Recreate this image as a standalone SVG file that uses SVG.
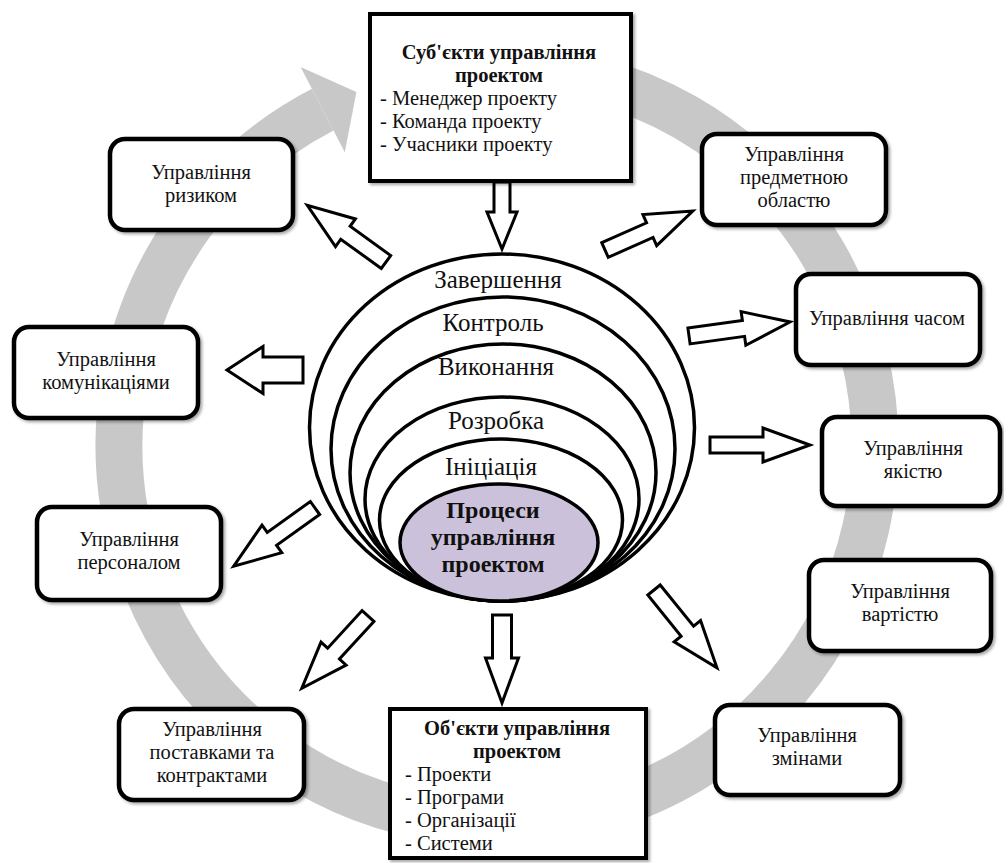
<svg xmlns="http://www.w3.org/2000/svg" width="1004" height="863" viewBox="0 0 1004 863">
<defs>
<style>
.t{font-family:"Liberation Serif","Times New Roman",serif;font-size:20.5px;fill:#111;text-anchor:middle}
.tl{font-family:"Liberation Serif","Times New Roman",serif;font-size:20.5px;fill:#111}
.b{font-weight:bold}
.e{font-family:"Liberation Serif","Times New Roman",serif;font-size:25px;fill:#111;text-anchor:middle}
.eb{font-family:"Liberation Serif","Times New Roman",serif;font-size:24px;font-weight:bold;fill:#111;text-anchor:middle}
.box{fill:#fff;stroke:#000;stroke-width:4.5;filter:url(#sh)}
.sq{fill:#fff;stroke:#000;stroke-width:4;filter:url(#sh)}
.ring{fill:#fff;stroke:#000;stroke-width:3.5}
.arr{fill:#fff;stroke:#000;stroke-width:3;stroke-linejoin:miter}
</style>
<filter id="sh" x="-10%" y="-10%" width="125%" height="125%">
<feDropShadow dx="2" dy="2" stdDeviation="1.5" flood-color="#000" flood-opacity="0.35"/>
</filter>
</defs>
<rect width="1004" height="863" fill="#fff"/>
<g id="connectors">
<path d="M418.4,75.3 A378,378 0 1 1 322.7,109.6" fill="none" stroke="#c8c8c8" stroke-width="47"/>
<polygon points="356.4,92.1 300.6,67 344.8,152.2" fill="#c8c8c8"/>
<path class="arr" transform="translate(502,182) rotate(90)" d="M0,-8 H30 V-15 L67,0 L30,15 V8 H0 Z"/>
<path class="arr" transform="translate(386,262) rotate(215.8)" d="M0,-8 H50 V-17 L97,0 L50,17 V8 H0 Z"/>
<path class="arr" transform="translate(605,250) rotate(-23.9)" d="M0,-8 H49 V-17 L96,0 L49,17 V8 H0 Z"/>
<path class="arr" transform="translate(689,336) rotate(-7.9)" d="M0,-8 H55 V-17 L102,0 L55,17 V8 H0 Z"/>
<path class="arr" transform="translate(710,445)" d="M0,-8 H53 V-17 L100,0 L53,17 V8 H0 Z"/>
<path class="arr" transform="translate(654,590) rotate(51)" d="M0,-8 H53 V-17 L100,0 L53,17 V8 H0 Z"/>
<path class="arr" transform="translate(502,615) rotate(90)" d="M0,-9.5 H43 V-16.5 L88,0 L43,16.5 V9.5 H0 Z"/>
<path class="arr" transform="translate(368,616) rotate(132.5)" d="M0,-8 H51 V-17 L98,0 L51,17 V8 H0 Z"/>
<path class="arr" transform="translate(315,508) rotate(144.4)" d="M0,-8 H53 V-17 L100,0 L53,17 V8 H0 Z"/>
<path class="arr" transform="translate(303,370) rotate(180)" d="M0,-13 H40 V-23.5 L76,0 L40,23.5 V13 H0 Z"/>
</g>
<g id="subjects">
<rect class="sq" x="370" y="14" width="261" height="167"/>
<text class="t b" x="499" y="59">Суб'єкти управління</text>
<text class="t b" x="499" y="82">проектом</text>
<text class="tl" x="380" y="105">- Менеджер проекту</text>
<text class="tl" x="380" y="128">- Команда проекту</text>
<text class="tl" x="380" y="151">- Учасники проекту</text>
</g>
<g id="phases">
<ellipse id="phase-completion" class="ring" cx="502" cy="427.5" rx="192.5" ry="173.5"/>
<ellipse id="phase-control" class="ring" cx="503" cy="449" rx="172" ry="152"/>
<ellipse id="phase-execution" class="ring" cx="503" cy="472.5" rx="153" ry="128.5"/>
<ellipse id="phase-development" class="ring" cx="502" cy="499" rx="137" ry="102"/>
<ellipse id="phase-initiation" class="ring" cx="501" cy="520" rx="121.5" ry="81"/>
<ellipse id="processes" class="ring" cx="499" cy="542.5" rx="99" ry="58.5" style="fill:#ccc1da"/>
<text class="e" x="498" y="288">Завершення</text>
<text class="e" x="493" y="331">Контроль</text>
<text class="e" x="496" y="375">Виконання</text>
<text class="e" x="496" y="429">Розробка</text>
<text class="e" x="491" y="475">Ініціація</text>
<text class="eb" x="493" y="518">Процеси</text>
<text class="eb" x="493" y="545">управління</text>
<text class="eb" x="493" y="572">проектом</text>
</g>
<g id="risk">
<rect class="box" x="110" y="139" width="183" height="91" rx="15"/>
<text class="t" x="201" y="179">Управління</text>
<text class="t" x="201" y="202">ризиком</text>
</g>
<g id="scope">
<rect class="box" x="702" y="134" width="184" height="91" rx="15"/>
<text class="t" x="794" y="161">Управління</text>
<text class="t" x="794" y="184">предметною</text>
<text class="t" x="794" y="207">областю</text>
</g>
<g id="time">
<rect class="box" x="796" y="274" width="184" height="91" rx="15"/>
<text class="t" x="887" y="325">Управління часом</text>
</g>
<g id="quality">
<rect class="box" x="822" y="417" width="178" height="89" rx="15"/>
<text class="t" x="913" y="455">Управління</text>
<text class="t" x="913" y="478">якістю</text>
</g>
<g id="cost">
<rect class="box" x="809" y="560" width="182" height="91" rx="15"/>
<text class="t" x="900" y="598">Управління</text>
<text class="t" x="900" y="621">вартістю</text>
</g>
<g id="change">
<rect class="box" x="715" y="705" width="185" height="90" rx="15"/>
<text class="t" x="807" y="742">Управління</text>
<text class="t" x="807" y="765">змінами</text>
</g>
<g id="objects">
<rect class="sq" x="390" y="709" width="256" height="149"/>
<text class="t b" x="517" y="735">Об'єкти управління</text>
<text class="t b" x="517" y="758">проектом</text>
<text class="tl" x="405" y="781">- Проекти</text>
<text class="tl" x="405" y="804">- Програми</text>
<text class="tl" x="405" y="827">- Організації</text>
<text class="tl" x="405" y="850">- Системи</text>
</g>
<g id="procurement">
<rect class="box" x="119" y="709" width="185" height="91" rx="15"/>
<text class="t" x="212" y="736">Управління</text>
<text class="t" x="212" y="759">поставками та</text>
<text class="t" x="212" y="782">контрактами</text>
</g>
<g id="hr">
<rect class="box" x="37" y="507" width="184" height="93" rx="15"/>
<text class="t" x="129" y="546">Управління</text>
<text class="t" x="129" y="569">персоналом</text>
</g>
<g id="communications">
<rect class="box" x="14" y="327" width="184" height="91" rx="15"/>
<text class="t" x="106" y="366">Управління</text>
<text class="t" x="106" y="389">комунікаціями</text>
</g>
</svg>
